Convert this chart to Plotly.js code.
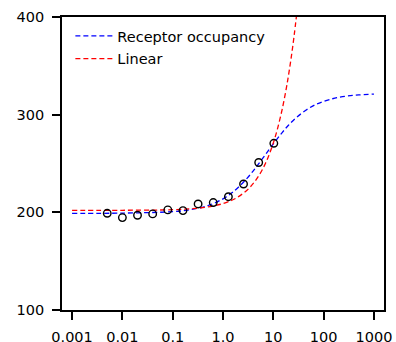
<!DOCTYPE html>
<html>
<head>
<meta charset="utf-8">
<script src="https://cdn.plot.ly/plotly-3.0.1.min.js"></script>
<style>html,body{margin:0;padding:0;background:#fff;}#chart{width:396px;height:342px;}</style>
</head>
<body>
<div id="chart"></div>
<script>
// Measured data points
var dataX = [0.005, 0.01, 0.02, 0.04, 0.08, 0.16, 0.32, 0.64, 1.28, 2.56, 5.12, 10.24];
var dataY = [199, 194.6, 197, 198.4, 202.5, 201.8, 208.6, 210, 216, 229, 251, 270.7];

// Receptor occupancy curve
var occX = [0.001, 0.01, 0.1, 0.2, 0.5, 1, 1.5, 2, 3, 4, 5, 7, 10, 15, 20, 30, 50, 70, 100, 150, 200, 300, 500, 1000];
var occY = [199.0, 199.2, 200.7, 202.3, 206.9, 213.8, 220.0, 225.5, 234.8, 242.5, 249.0, 259.2, 270.1, 281.7, 289.1, 297.9, 306.3, 310.4, 313.6, 316.3, 317.7, 319.1, 320.2, 321.1];

// Linear curve
var linX = [0.001, 0.01, 0.1, 0.3, 0.5, 1, 1.5, 2, 3, 4, 5, 6, 7, 8, 10, 12, 15, 18, 20, 23, 26, 29];
var linY = [202.0, 202.1, 202.7, 204.1, 205.5, 208.9, 212.4, 215.8, 222.7, 229.6, 236.5, 243.4, 250.3, 257.2, 271.0, 284.8, 305.5, 326.2, 340.0, 360.7, 381.4, 402.1];

var tickVals = [0.001, 0.01, 0.1, 1, 10, 100, 1000];
var tickText = ['0.001', '0.01', '0.1', '1.0', '10', '100', '1000'];
var yTickVals = [100, 200, 300, 400];

var traces = [
  {x: occX, y: occY, type: 'scatter', mode: 'lines', name: 'Receptor occupancy',
   line: {color: '#0000ff', width: 1.3, dash: '5px,3px', shape: 'spline'}, legendgroup: 'a'},
  {x: linX, y: linY, type: 'scatter', mode: 'lines', name: 'Linear',
   line: {color: '#ff0000', width: 1.3, dash: '5px,3px', shape: 'spline'}, legendgroup: 'b'},
  {x: dataX, y: dataY, type: 'scatter', mode: 'markers', showlegend: false,
   marker: {symbol: 'circle-open', size: 7.5, color: '#000', line: {width: 1.4, color: '#000'}}}
];

var layout = {
  width: 396, height: 342,
  margin: {l: 62, r: 12, t: 17, b: 32},
  paper_bgcolor: '#fff', plot_bgcolor: '#fff',
  font: {family: 'DejaVu Sans', size: 14.5, color: '#000'},
  showlegend: true,
  legend: {x: 0.026, y: 0.99, xanchor: 'left', yanchor: 'top', bgcolor: 'rgba(0,0,0,0)',
           itemwidth: 37, traceorder: 'grouped', tracegroupgap: 1,
           font: {family: 'DejaVu Sans', size: 14.5, color: '#000'}},
  xaxis: {type: 'log', range: [-3.2, 3.2], tickmode: 'array', tickvals: tickVals, ticktext: tickText,
          showgrid: false, zeroline: false, showline: true, linecolor: '#000', linewidth: 1.8,
          mirror: true, ticks: 'outside', ticklen: 8, tickwidth: 1.8, tickcolor: '#000',
          ticklabelstandoff: 5},
  yaxis: {range: [100, 400], tickmode: 'array', tickvals: yTickVals,
          showgrid: false, zeroline: false, showline: true, linecolor: '#000', linewidth: 1.8,
          mirror: true, ticks: 'outside', ticklen: 8, tickwidth: 1.8, tickcolor: '#000',
          ticklabelstandoff: 5}
};

Plotly.newPlot('chart', traces, layout, {displayModeBar: false, staticPlot: true});
</script>
</body>
</html>
